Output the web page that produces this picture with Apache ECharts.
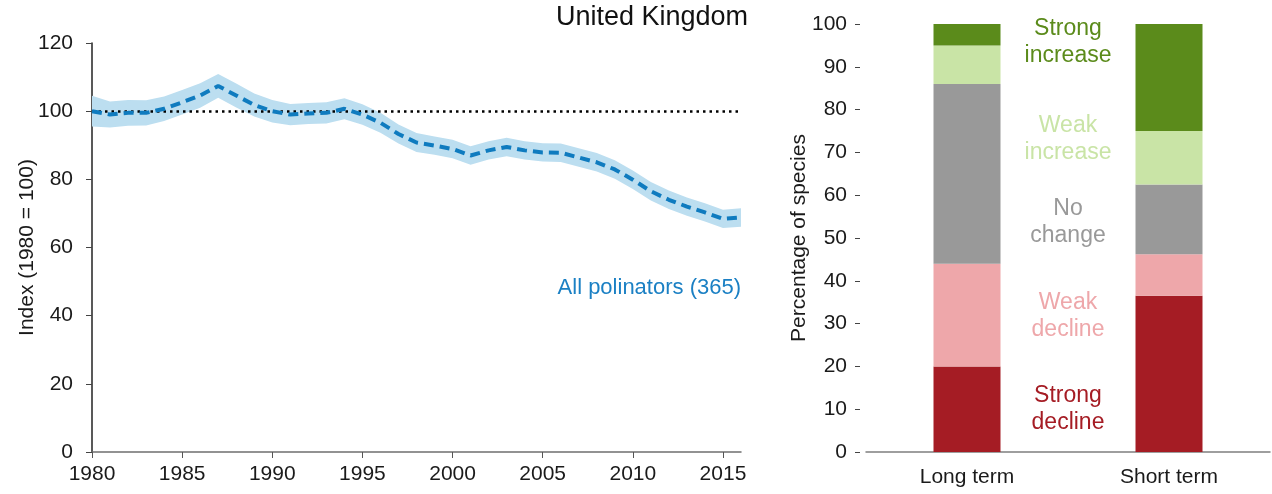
<!DOCTYPE html>
<html>
<head>
<meta charset="utf-8">
<script src="https://cdn.jsdelivr.net/npm/echarts@6/dist/echarts.min.js"></script>
<style>
  html, body { margin: 0; padding: 0; background: #fff; }
  #chart { width: 1272px; height: 494px; }
</style>
</head>
<body>
<div id="chart"></div>
<script>
// Pollinator index, United Kingdom (1980 = 100)
const years = [1980,1981,1982,1983,1984,1985,1986,1987,1988,1989,1990,1991,1992,1993,1994,1995,1996,1997,1998,1999,2000,2001,2002,2003,2004,2005,2006,2007,2008,2009,2010,2011,2012,2013,2014,2015,2016];
const indexValues = [100,99.0,99.5,99.5,100.7,102.6,104.6,107.4,104.6,101.8,100,99.0,99.3,99.5,100.7,99.0,96.6,93.3,90.8,89.9,88.9,87.0,88.5,89.5,88.5,87.9,87.8,86.4,85.0,82.9,79.9,76.5,74.0,72.0,70.3,68.4,68.8];
const lowerBound = [95.5,95.2,95.7,95.8,97.1,99.0,101.0,103.9,101.1,98.4,96.7,95.9,96.2,96.4,97.6,96.0,93.7,90.5,88.0,87.2,86.2,84.3,85.8,86.8,85.8,85.2,85.1,83.7,82.3,80.2,77.2,73.8,71.3,69.3,67.6,65.7,66.1];
const upperBound = [104.5,102.8,103.3,103.2,104.3,106.2,108.2,110.9,108.1,105.2,103.3,102.1,102.4,102.6,103.8,102.0,99.5,96.1,93.6,92.6,91.6,89.7,91.2,92.2,91.2,90.6,90.5,89.1,87.7,85.6,82.6,79.2,76.7,74.7,73.0,71.1,71.5];
const baseline = 100;

// Share of species by trend class
const periods = ['Long term', 'Short term'];
const trendClasses = ['Strong decline', 'Weak decline', 'No change', 'Weak increase', 'Strong increase'];
const strongDecline = [20, 36.5];
const weakDecline = [24, 9.7];
const noChange = [42, 16.3];
const weakIncrease = [9, 12.5];
const strongIncrease = [5, 25];

const trendColors = ['#a51c24', '#eea7aa', '#999999', '#c9e4a6', '#5b8b1b'];
const trendValues = [strongDecline, weakDecline, noChange, weakIncrease, strongIncrease];
// vertical placement (in percent units) of each class caption
const captionLevels = [9.9, 31.7, 53.8, 73.2, 95.8];

const FONT = '"Liberation Sans", Arial, sans-serif';
const TXT = '#1a1a1a';
const FS = 21;

const chart = echarts.init(document.getElementById('chart'), null, { renderer: 'canvas' });

const bandWidth = upperBound.map((u, i) => +(u - lowerBound[i]).toFixed(2));

const option = {
  animation: false,
  backgroundColor: '#fff',
  textStyle: { fontFamily: FONT },
  title: {
    text: 'United Kingdom',
    right: 524,
    top: 4,
    padding: 0,
    textStyle: { fontFamily: FONT, fontSize: 27, fontWeight: 'normal', color: '#111' }
  },
  grid: [
    { left: 92, right: 531, top: 43, bottom: 42 },
    { left: 866, right: 2, top: 24, bottom: 42 }
  ],
  xAxis: [
    {
      gridIndex: 0,
      type: 'category',
      data: years.map(String),
      boundaryGap: false,
      axisLine: { lineStyle: { color: '#6f6f6f', width: 1.5 } },
      axisTick: { interval: 4, length: 6, lineStyle: { color: '#555' } },
      axisLabel: { interval: 4, margin: 12, fontSize: FS, color: TXT, fontFamily: FONT },
      splitLine: { show: false }
    },
    {
      gridIndex: 1,
      type: 'category',
      data: periods,
      boundaryGap: true,
      axisLine: { lineStyle: { color: '#7f7f7f', width: 1.5 } },
      axisTick: { length: 6, lineStyle: { color: '#555' } },
      axisLabel: { margin: 15, fontSize: FS, color: TXT, fontFamily: FONT }
    }
  ],
  yAxis: [
    {
      gridIndex: 0,
      type: 'value',
      min: 0, max: 120, interval: 20,
      name: 'Index (1980 = 100)',
      nameLocation: 'middle',
      nameGap: 54,
      nameMoveOverlap: false,
      nameTextStyle: { fontSize: FS, color: TXT, fontFamily: FONT },
      axisLine: { show: true, lineStyle: { color: '#222', width: 1.5 } },
      axisTick: { show: true, length: 6, lineStyle: { color: '#444' } },
      axisLabel: { margin: 19, fontSize: FS, color: TXT, fontFamily: FONT },
      splitLine: { show: false }
    },
    {
      gridIndex: 1,
      type: 'value',
      min: 0, max: 100, interval: 10,
      offset: 6,
      name: 'Percentage of species',
      nameLocation: 'middle',
      nameGap: 50,
      nameMoveOverlap: false,
      nameTextStyle: { fontSize: FS, color: TXT, fontFamily: FONT },
      axisLine: { show: false },
      axisTick: { show: true, length: 5, lineStyle: { color: '#444' } },
      axisLabel: { margin: 13, fontSize: FS, color: TXT, fontFamily: FONT },
      splitLine: { show: false }
    }
  ],
  series: [
    {
      name: 'lower',
      type: 'line',
      xAxisIndex: 0, yAxisIndex: 0,
      stack: 'ci',
      data: lowerBound,
      symbol: 'none',
      lineStyle: { opacity: 0 },
      silent: true
    },
    {
      name: 'interval',
      type: 'line',
      xAxisIndex: 0, yAxisIndex: 0,
      stack: 'ci',
      data: bandWidth,
      symbol: 'none',
      lineStyle: { opacity: 0 },
      areaStyle: { color: '#bcdef0', opacity: 1 },
      silent: true
    },
    {
      name: 'All polinators',
      type: 'line',
      xAxisIndex: 0, yAxisIndex: 0,
      data: indexValues,
      symbol: 'none',
      lineStyle: { color: '#0f7bbf', width: 4, type: [10, 6] },
      z: 5,
      markLine: {
        silent: true,
        symbol: 'none',
        label: { show: false },
        lineStyle: { color: '#000', width: 2.5, type: [2.5, 4] },
        data: [{ yAxis: baseline }]
      }
    },
    ...trendClasses.map((name, i) => ({
      name,
      type: 'bar',
      xAxisIndex: 1, yAxisIndex: 1,
      stack: 'trend',
      barWidth: 67,
      data: trendValues[i],
      itemStyle: { color: trendColors[i] }
    }))
  ]
};

chart.setOption(option);

// Captions: series name on the left plot, trend classes between the two bars
const p0 = chart.convertToPixel({ xAxisIndex: 1, yAxisIndex: 1 }, [0, 0]);
const p1 = chart.convertToPixel({ xAxisIndex: 1, yAxisIndex: 1 }, [1, 0]);
const midX = (p0[0] + p1[0]) / 2;
const end = chart.convertToPixel({ xAxisIndex: 0, yAxisIndex: 0 }, [years.length - 1, 48]);

const graphics = [{
  type: 'text',
  x: end[0],
  y: end[1],
  style: {
    text: 'All polinators (365)',
    fill: '#1b80c4',
    font: '22px ' + FONT,
    textAlign: 'right',
    textVerticalAlign: 'middle'
  }
}];

trendClasses.forEach((name, i) => {
  const parts = name.split(' ');
  graphics.push({
    type: 'text',
    x: midX,
    y: chart.convertToPixel({ xAxisIndex: 1, yAxisIndex: 1 }, [0, captionLevels[i]])[1],
    style: {
      text: parts[0] + '\n' + parts[1],
      fill: trendColors[i],
      font: '23px ' + FONT,
      lineHeight: 27,
      textAlign: 'center',
      textVerticalAlign: 'middle'
    }
  });
});

chart.setOption({ graphic: graphics });
</script>
</body>
</html>
